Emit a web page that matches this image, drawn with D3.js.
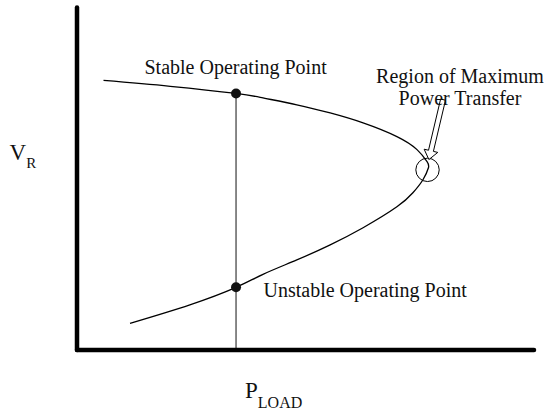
<!DOCTYPE html>
<html><head><meta charset="utf-8">
<script src="https://cdn.jsdelivr.net/npm/d3@7"></script>
<style>
html,body{margin:0;padding:0;background:#fff;}
svg{display:block;}
text{font-family:"Liberation Serif","Times New Roman",serif;fill:#111;}
</style></head>
<body>
<svg id="chart" width="546" height="415"></svg>
<script>
// PV (nose) curve: load power P vs receiving-end voltage V
const curveP = [0.58, 2.04, 3.48, 4.07, 4.81, 5.54, 6.26, 7.00, 7.44, 7.66, 7.69, 7.57, 7.35, 7.00, 6.26, 5.54, 4.81, 4.07, 3.48, 2.47, 1.16];
const curveV = [7.87, 7.70, 7.49, 7.36, 7.16, 6.92, 6.63, 6.23, 5.85, 5.50, 5.32, 4.97, 4.59, 4.18, 3.57, 3.07, 2.63, 2.21, 1.83, 1.32, 0.78];
// operating points at the chosen load
const opLoad = [3.48];
const opStableV = [7.49];
const opUnstableV = [1.83];
// region of maximum power transfer
const nosePoint = [7.67, 5.26];
const arrowTail = [8.01, 7.31];
const arrowTip = [7.70, 5.56];
// labels
const labelStable = "Stable Operating Point";
const labelUnstable = "Unstable Operating Point";
const labelRegion = ["Region of Maximum", "Power Transfer"];
const axisY = ["V", "R"];
const axisX = ["P", "LOAD"];

const svg = d3.select("#chart");
const x = d3.scaleLinear().domain([0, 10]).range([77, 534]);
const y = d3.scaleLinear().domain([0, 10]).range([350, 7.5]);

// vertical load line
svg.append("line")
  .attr("x1", x(opLoad[0])).attr("x2", x(opLoad[0]))
  .attr("y1", y(opStableV[0])).attr("y2", y(0))
  .attr("stroke", "#555").attr("stroke-width", 1.4);

// curve
const pts = curveP.map((p, i) => [p, curveV[i]]);
svg.append("path")
  .datum(pts)
  .attr("d", d3.line().x(d => x(d[0])).y(d => y(d[1])).curve(d3.curveNatural))
  .attr("fill", "none").attr("stroke", "#000").attr("stroke-width", 1.3);

// axes (thick lines)
svg.append("line").attr("x1", x(0)).attr("x2", x(0)).attr("y1", y(10)).attr("y2", y(0))
  .attr("stroke", "#000").attr("stroke-width", 4.5).attr("stroke-linecap", "round");
svg.append("line").attr("x1", x(0)).attr("x2", x(10)).attr("y1", y(0)).attr("y2", y(0))
  .attr("stroke", "#000").attr("stroke-width", 4.5).attr("stroke-linecap", "round");

// operating point dots
[opStableV[0], opUnstableV[0]].forEach(v => {
  svg.append("circle").attr("cx", x(opLoad[0])).attr("cy", y(v)).attr("r", 5).attr("fill", "#111");
});

// nose circle
svg.append("circle").attr("cx", x(nosePoint[0])).attr("cy", y(nosePoint[1])).attr("r", 11.7)
  .attr("fill", "none").attr("stroke", "#000").attr("stroke-width", 1);

// hollow block arrow
(function(){
  const tx = x(arrowTail[0]), ty = y(arrowTail[1]);
  const hx = x(arrowTip[0]), hy = y(arrowTip[1]);
  const L = Math.hypot(hx - tx, hy - ty);
  const ux = (hx - tx) / L, uy = (hy - ty) / L;
  const nx = -uy, ny = ux;
  const sw = 2.5, hw = 7, hl = 9;
  const local = [[-sw, 0], [-sw, L - hl], [-hw, L - hl], [0, L], [hw, L - hl], [sw, L - hl], [sw, 0]];
  const poly = local.map(([a, b]) => [tx + b * ux + a * nx, ty + b * uy + a * ny]);
  svg.append("polygon").attr("points", poly.map(p => p.join(",")).join(" "))
    .attr("fill", "#fff").attr("stroke", "#000").attr("stroke-width", 1);
})();

// labels
svg.append("text").attr("x", 144.5).attr("y", 74).attr("font-size", 20).text(labelStable);
svg.append("text").attr("x", 263.5).attr("y", 297).attr("font-size", 20).text(labelUnstable);
labelRegion.forEach((t, i) => {
  svg.append("text").attr("x", 460).attr("y", 83 + i * 22).attr("text-anchor", "middle")
    .attr("font-size", 20).text(t);
});

// axis titles
const ty = svg.append("text").attr("x", 9.5).attr("y", 160).attr("font-size", 23);
ty.append("tspan").text(axisY[0]);
ty.append("tspan").attr("font-size", 15).attr("dy", 8.3).text(axisY[1]);
const tx = svg.append("text").attr("x", 245).attr("y", 398.3).attr("font-size", 23);
tx.append("tspan").text(axisX[0]);
tx.append("tspan").attr("font-size", 16).attr("dy", 10).text(axisX[1]);
</script>
</body></html>
